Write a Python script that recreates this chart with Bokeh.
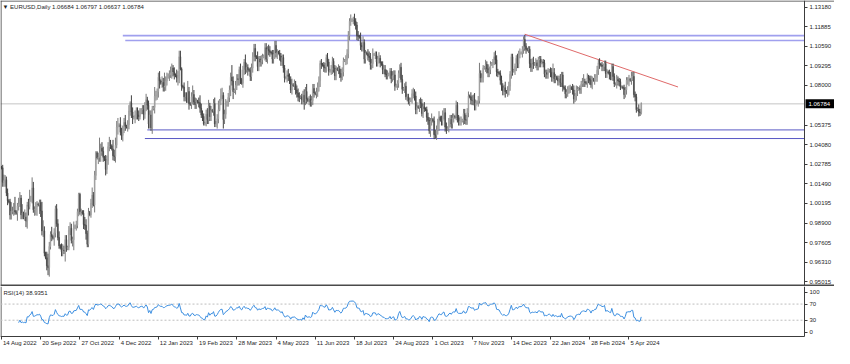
import numpy as np
from bokeh.plotting import figure
from bokeh.layouts import column
from bokeh.models import Range1d, FixedTicker, Span, CustomJSTickFormatter, ColumnDataSource, LinearAxis
from bokeh.core.properties import value
from bokeh.embed import file_html
from bokeh.resources import INLINE

# ---------------- data ----------------
title_text = "\u25BC EURUSD,Daily 1.06684 1.06797 1.06637 1.06784"
rsi_text = "RSI(14) 38.9351"
last_price = 1.06784
first_open = 1.0258

price_ticks = [0.95015, 0.96310, 0.97605, 0.98900, 1.00195, 1.01490, 1.02785,
               1.04080, 1.05375, 1.08000, 1.09295, 1.10590, 1.11885, 1.13180]
rsi_ticks = [0, 30, 70, 100]
rsi_levels = [30, 70]

date_labels = ["14 Aug 2022", "20 Sep 2022", "27 Oct 2022", "4 Dec 2022", "12 Jan 2023",
               "19 Feb 2023", "28 Mar 2023", "4 May 2023", "11 Jun 2023", "18 Jul 2023",
               "24 Aug 2023", "1 Oct 2023", "7 Nov 2023", "14 Dec 2023", "22 Jan 2024",
               "28 Feb 2024", "5 Apr 2024"]
date_label_bars = [0, 32, 64, 96, 128, 160, 192, 224, 256, 288, 320, 352, 384, 416, 448, 480, 512]

# daily closes (x 0.0001), one row per week (Sun..Fri bars)
close_rows = [
[10255,10160,10170,10177,10088,10038],
[10030,9943,9968,9968,9973,9965],
[9955,10003,10017,10055,9945,9955],
[9925,9930,9903,10010,10000,10040],
[10060,10122,9978,9980,9998,10015],
[10010,10025,9970,9838,9838,9690],
[9660,9607,9595,9735,9815,9800],
[9790,9825,9985,9885,9795,9740],
[9725,9700,9710,9705,9780,9720],
[9730,9840,9855,9775,9780,9860],
[9870,9875,9965,10080,9965,9965],
[9955,9880,9875,9820,9750,9960],
[9945,10020,10075,10010,10205,10355],
[10320,10325,10355,10385,10365,10325],
[10310,10245,10305,10395,10410,10400],
[10380,10335,10330,10405,10525,10535],
[10540,10490,10470,10505,10555,10530],
[10525,10540,10630,10685,10625,10585],
[10590,10605,10625,10605,10595,10620],
[10640,10640,10610,10660,10705],
[10670,10545,10605,10520,10645],
[10655,10730,10735,10760,10855,10830],
[10815,10820,10790,10795,10830,10855],
[10870,10870,10885,10915,10890,10870],
[10865,10850,10865,10990,10910,10795],
[10790,10725,10725,10715,10760,10680],
[10675,10725,10740,10690,10675,10695],
[10690,10685,10650,10605,10595,10545],
[10550,10610,10575,10665,10595,10635],
[10630,10680,10545,10545,10580,10640],
[10700,10730,10735,10575,10610,10670],
[10690,10720,10770,10855,10830,10760],
[10770,10800,10845,10840,10905,10840],
[10815,10900,10955,10905,10920,10905],
[10900,10860,10915,10990,11045,10990],
[10985,10925,10975,10955,10970,10990],
[10995,11050,10975,11040,11030,11020],
[11015,10975,11005,11065,11015,11020],
[11015,10995,10960,10985,10915,10850],
[10850,10870,10860,10840,10770,10805],
[10800,10810,10770,10750,10725,10720],
[10725,10705,10735,10690,10760,10710],
[10700,10710,10690,10700,10780,10750],
[10745,10755,10790,10830,10945,10940],
[10935,10920,10915,10985,10955,10895],
[10900,10905,10960,10915,10865,10910],
[10905,10910,10880,10855,10890,10965],
[10965,10970,11010,11130,11225,11230],
[11235,11235,11225,11200,11130,11125],
[11120,11065,11055,11085,10975,11015],
[11010,10995,10985,10935,10945,11005],
[11005,11005,10955,10975,10980,10950],
[10940,10905,10905,10875,10870,10870],
[10875,10895,10845,10865,10870,10795],
[10800,10815,10880,10920,10840,10775],
[10780,10795,10725,10725,10695,10700],
[10710,10745,10755,10730,10640,10660],
[10655,10690,10680,10615,10660,10645],
[10640,10590,10570,10500,10565,10575],
[10565,10475,10470,10505,10550,10590],
[10570,10565,10605,10620,10525,10510],
[10520,10555,10575,10545,10585,10595],
[10590,10670,10585,10565,10565,10565],
[10570,10615,10575,10570,10620,10730],
[10725,10705,10700,10710,10665,10685],
[10690,10700,10880,10850,10850,10915],
[10920,10940,10910,10885,10905,10940],
[10945,10955,10990,10970,10890,10885],
[10880,10835,10795,10765,10785,10760],
[10755,10765,10795,10875,10990,10895],
[10900,10925,10980,10945,11010,11015],
[11015,11040,11105,11060,11040],
[11035,11040,10945,10920,10950,10940],
[10945,10950,10930,10970,10975,10950],
[10955,10950,10875,10885,10875,10895],
[10900,10885,10855,10885,10845,10855],
[10845,10830,10845,10820,10870,10790],
[10780,10745,10755,10775,10780,10785],
[10780,10770,10710,10730,10770,10775],
[10780,10775,10810,10820,10825,10820],
[10815,10850,10845,10835,10805,10840],
[10835,10855,10855,10900,10950,10940],
[10935,10925,10925,10945,10880,10890],
[10885,10870,10865,10925,10860,10810],
[10810,10840,10830,10825,10790,10790],
[10785,10740,10770,10835,10835,10840],
[10835,10860,10860,10740,10725,10640],
[10645,10625,10618,10678],
]

# upper wick above body (x 0.001)
hw_rows = [
[1,2,4,3,2,3],[1,2,6,3,5,9],[1,2,4,4,2,6],[1,5,3,2,4,7],[1,7,4,2,3,2],
[1,2,2,6,7,3],[1,4,8,3,2,5],[1,3,2,3,3,4],[1,3,4,3,3,3],[1,3,4,3,2,4],
[1,3,2,1,1,2],[1,2,5,4,2,3],[1,3,5,2,3,1],[1,3,10,3,4,3],[1,3,3,3,5,3],
[1,6,4,5,4,5],[1,5,3,3,3,5],[1,3,4,1,5,3],[1,3,3,3,3,3],[1,3,3,3,4],
[2,3,3,3,2],[1,6,3,2,3,4],[1,4,3,9,3,3],[1,3,4,3,2,3],[1,4,3,4,4,1],
[1,3,3,3,7,3],[1,3,6,3,3,2],[1,3,5,3,3,2],[1,3,4,4,2,3],[1,3,4,2,3,6],
[1,5,5,2,3,4],[1,3,3,3,8,3],[1,3,3,3,2,4],[1,3,2,5,3,2],[1,2,3,3,3,3],
[1,4,2,2,3,2],[1,3,3,2,3,3],[1,2,3,3,3,2],[1,2,2,2,2,2],[1,3,4,2,2,4],
[1,3,2,3,3,3],[1,2,3,4,3,5],[1,2,3,3,3,3],[1,3,3,3,2,3],[1,2,3,2,3,2],
[1,3,3,2,2,2],[1,3,2,3,3,2],[1,3,3,3,2,4],[1,2,4,2,2,3],[1,3,2,4,2,2],
[1,3,3,3,3,4],[1,2,2,2,4,2],[1,2,3,3,3,3],[1,2,2,3,3,3],[1,2,2,2,3,3],
[1,2,3,2,2,2],[1,3,3,2,3,3],[1,2,3,3,2,3],[1,2,3,2,2,4],[1,3,3,3,3,4],
[1,3,3,3,3,3],[1,3,3,3,3,2],[1,3,2,2,3,3],[1,3,3,3,3,3],[1,3,3,3,4,2],
[1,3,7,2,3,2],[1,3,2,3,2,2],[1,2,3,4,3,2],[1,2,3,2,2,4],[1,3,3,2,2,2],
[1,2,2,3,2,3],[1,2,2,3,2],[1,2,2,3,3,4],[1,3,2,2,2,2],[1,2,2,2,2,2],
[1,2,3,6,3,2],[1,2,2,3,2,2],[1,2,2,2,2,2],[1,3,3,2,3,2],[1,2,2,3,5,2],
[1,3,2,2,3,2],[1,2,2,3,2,3],[1,2,2,2,2,2],[1,2,2,2,2,2],[1,3,2,2,2,1],
[1,2,2,2,2,3],[1,3,3,3,2,2],[1,3,2,1],
]

# lower wick below body (x 0.001)
lw_rows = [
[1,3,3,4,2,3],[1,3,3,2,3,2],[1,5,3,2,3,3],[1,2,4,5,6,2],[1,4,2,4,4,6],
[1,6,4,3,4,2],[1,3,5,6,2,3],[1,5,3,2,2,2],[1,3,3,2,7,2],[1,2,3,2,4,7],
[1,3,2,3,2,3],[1,3,3,4,2,2],[1,2,3,1,5,3],[1,4,3,6,3,3],[1,4,3,3,3,2],
[1,3,3,4,2,5],[1,2,3,4,2,3],[1,3,3,3,4,4],[1,4,3,3,3,2],[1,3,4,3,3],
[3,3,3,2,4],[1,4,3,3,4,5],[1,3,3,3,3,3],[1,4,2,4,3,3],[1,3,5,5,1,3],
[1,3,3,3,3,4],[1,3,5,2,3,3],[1,3,3,2,3,1],[1,2,3,3,3,3],[1,3,2,2,3,3],
[1,3,2,6,3,3],[1,3,3,4,3,5],[1,3,3,4,4,3],[1,3,3,3,2,4],[1,3,3,3,3,3],
[1,3,3,3,3,3],[1,3,2,3,3,3],[1,3,3,3,3,4],[1,3,3,3,3,3],[1,3,3,3,2,3],
[1,3,3,3,3,3],[1,3,3,5,2,3],[1,3,3,3,3,3],[1,3,3,3,4,3],[1,3,3,3,3,3],
[1,3,3,3,3,3],[1,3,3,3,2,3],[1,3,3,3,3,3],[1,3,3,3,3,3],[1,3,3,3,3,3],
[1,3,3,3,3,3],[1,3,3,3,3,3],[1,3,3,2,3,3],[1,3,3,2,3,3],[1,3,3,3,2,3],
[1,3,2,3,2,3],[1,3,3,3,3,3],[1,3,3,2,3,2],[1,3,3,2,4,3],[1,3,2,3,3,5],
[1,3,3,3,3,3],[1,3,3,3,3,3],[1,2,3,3,3,3],[1,3,3,3,3,3],[1,3,3,3,3,3],
[1,3,2,3,3,3],[1,3,3,3,3,3],[1,3,2,3,3,3],[1,3,3,3,3,4],[1,3,3,3,3,3],
[1,3,3,3,3,3],[1,3,3,3,3],[1,2,3,3,3,3],[1,3,3,3,5,3],[1,3,2,3,3,3],
[1,3,3,3,3,3],[1,3,3,3,3,3],[1,3,3,3,3,3],[1,3,3,2,3,4],[1,3,3,2,3,3],
[1,3,3,3,2,3],[1,3,3,3,3,3],[1,3,3,3,3,3],[1,3,3,3,3,2],[1,3,3,3,2,1],
[1,3,2,3,3,4],[1,3,3,2,3,2],[1,3,2,1],
]

# drawn objects: horizontal levels (start bar, price) and trend line
level_start_bars = [99, 101, 119, 117]
level_prices = [1.1130, 1.1098, 1.0506, 1.0449]
trend_bars = [427, 552]
trend_prices = [1.1139, 1.0790]

# ---------------- build series ----------------
assert len(close_rows) == len(hw_rows) == len(lw_rows), (len(close_rows), len(hw_rows), len(lw_rows))
for k, (a, b, c) in enumerate(zip(close_rows, hw_rows, lw_rows)):
    assert len(a) == len(b) == len(c), ("row", k, len(a), len(b), len(c))

closes = np.array([v for r in close_rows for v in r], dtype=float) / 10000.0
hw = np.array([v for r in hw_rows for v in r], dtype=float) / 1000.0
lw = np.array([v for r in lw_rows for v in r], dtype=float) / 1000.0
n = len(closes)
idx = np.arange(n)
opens = np.empty(n)
opens[0] = first_open
opens[1:] = closes[:-1]
btop = np.maximum(opens, closes)
bbot = np.minimum(opens, closes)
highs = btop + hw
lows = bbot - lw
bull = closes >= opens

def rsi_wilder(c, period=14):
    d = np.diff(c)
    up = np.where(d > 0, d, 0.0)
    dn = np.where(d < 0, -d, 0.0)
    out = np.full(len(c), np.nan)
    au = up[:period].mean()
    ad = dn[:period].mean()
    out[period] = 100 - 100 / (1 + au / ad) if ad > 0 else 100
    for i in range(period + 1, len(c)):
        au = (au * (period - 1) + up[i - 1]) / period
        ad = (ad * (period - 1) + dn[i - 1]) / period
        out[i] = 100 - 100 / (1 + au / ad) if ad > 0 else 100
    return out

rsi = rsi_wilder(closes)

# ---------------- layout constants ----------------
FONT = "Liberation Sans"
FS = "6px"
FRAME = "#3c3c3c"
TXT = "#1e1e1e"
W = 834
H1, H2 = 286, 62
CHART_PX = 804                       # px where the price scale line sits
X0, X1 = -0.8, 655.2                 # bar units spanned by the chart area
ppu = CHART_PX / (X1 - X0)
XR_END = X0 + W / ppu
Y0, Y1 = 0.9470, 1.13623
ppy = H1 / (Y1 - Y0)
# RSI panel: value 100 at 5.5px, 0 at 45.8px from its top; frame bottom at 50px
ppr = (45.8 - 5.5) / 100.0
R1 = 100 + 5.5 / ppr
R0 = R1 - H2 / ppr
RB = R1 - 50 / ppr


def style_axis(ax):
    ax.major_label_text_font = FONT
    ax.major_label_text_font_size = FS
    ax.major_label_text_color = TXT
    ax.axis_line_color = FRAME
    ax.major_tick_line_color = FRAME
    ax.major_tick_out = 3
    ax.major_tick_in = 0
    ax.minor_tick_line_color = None
    ax.major_label_standoff = 2


# ---------------- main panel ----------------
p = figure(width=W, height=H1, x_range=Range1d(X0, XR_END), y_range=Range1d(Y0, Y1),
           output_backend="svg", toolbar_location=None, x_axis_location=None,
           y_axis_location=None, min_border=0)
p.grid.visible = False
p.outline_line_color = None
p.background_fill_color = "white"
p.border_fill_color = "white"

pax = LinearAxis(fixed_location=X1, ticker=FixedTicker(ticks=price_ticks),
                 formatter=CustomJSTickFormatter(code="return tick.toFixed(5)"))
style_axis(pax)
p.add_layout(pax, "right")

# frame lines
p.add_layout(Span(location=Y1 - 0.5 / ppy, dimension="width", line_color=FRAME, line_width=1))
p.add_layout(Span(location=X0 + 0.5 / ppu, dimension="height", line_color=FRAME, line_width=1))
p.add_layout(Span(location=Y0 + 1.0 / ppy, dimension="width", line_color="#4a4a4a", line_width=2))

# current price line
p.segment(x0=[X0], y0=[last_price], x1=[X1], y1=[last_price], line_color="#c4c4c4", line_width=1)

# horizontal levels
lv = ColumnDataSource(dict(
    x0=level_start_bars, y=level_prices, x1=[X1] * len(level_prices),
    color=["#a0a0ee", "#a0a0ee", "#5858c4", "#5858c4"],
    lw=[1.6, 1.6, 1, 1],
))
p.segment(x0="x0", y0="y", x1="x1", y1="y", source=lv, line_color="color", line_width="lw")

# trend line
p.line(trend_bars, trend_prices, line_color="#e06a6a", line_width=1)

# candles
src = ColumnDataSource(dict(
    x=idx, high=highs, low=lows, top=btop, bottom=bbot,
    fill=np.where(bull, "#a4a4a4", "#4a4a4a"),
    wick=np.where(bull, "#7a7a7a", "#404040"),
))
p.segment(x0="x", y0="low", x1="x", y1="high", source=src, line_color="wick", line_width=1)
p.vbar(x="x", width=0.7, top="top", bottom="bottom", source=src,
       fill_color="fill", line_color="fill", line_width=0.5)

# title
p.text(x=[X0 + 2 / ppu], y=[Y1 - 6 / ppy], text=[title_text], text_font=value(FONT),
       text_font_size=value(FS), text_color=TXT, text_align="left", text_baseline="middle")

# current price tag on the scale
p.quad(left=[X1 + 1 / ppu], right=[XR_END], top=[last_price + 4.5 / ppy],
       bottom=[last_price - 4.5 / ppy], fill_color="black", line_color=None)
p.text(x=[X1 + 4 / ppu], y=[last_price], text=[f"{last_price:.5f}"], text_font=value(FONT),
       text_font_size=value(FS), text_color="white", text_align="left", text_baseline="middle")

# ---------------- RSI panel ----------------
r = figure(width=W, height=H2, x_range=p.x_range, y_range=Range1d(R0, R1),
           output_backend="svg", toolbar_location=None, x_axis_location=None,
           y_axis_location=None, min_border=0)
r.grid.visible = False
r.outline_line_color = None
r.background_fill_color = "white"
r.border_fill_color = "white"

rax = LinearAxis(fixed_location=X1, ticker=FixedTicker(ticks=rsi_ticks), bounds=(RB, R1))
style_axis(rax)
r.add_layout(rax, "right")

dax = LinearAxis(fixed_location=RB, ticker=FixedTicker(ticks=date_label_bars), bounds=(X0, X1))
style_axis(dax)
dax.major_label_text_alpha = 0
r.add_layout(dax, "below")

r.segment(x0=[X0 + 0.5 / ppu], y0=[RB], x1=[X0 + 0.5 / ppu], y1=[R1], line_color=FRAME, line_width=1)

for lvl in rsi_levels:
    r.segment(x0=[X0], y0=[lvl], x1=[X1], y1=[lvl], line_color="#bdbdbd",
              line_width=1, line_dash="2 2")
r.line(idx, rsi, line_color="#3d8fe0", line_width=1)

r.text(x=[X0 + 3 / ppu], y=[R1 - 6 / ppr], text=[rsi_text], text_font=value(FONT),
       text_font_size=value(FS), text_color=TXT, text_align="left", text_baseline="middle")

r.text(x=[b + 1.5 / ppu for b in date_label_bars], y=[RB - 6.5 / ppr] * len(date_label_bars),
       text=date_labels, text_font=value(FONT), text_font_size=value(FS), text_color=TXT,
       text_align="left", text_baseline="middle")

layout = column(p, r, spacing=0)
open("out.html", "w").write(file_html(layout, INLINE))
